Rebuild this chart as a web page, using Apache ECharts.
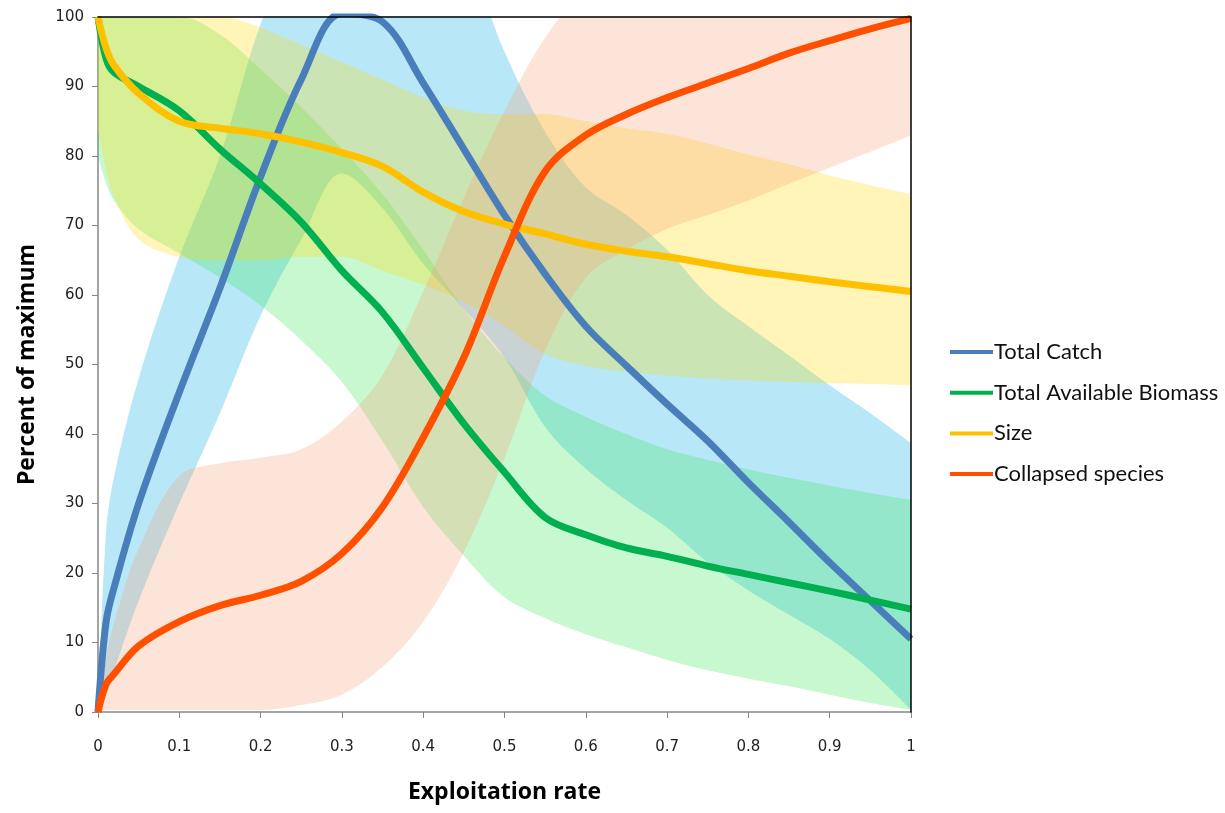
<!DOCTYPE html>
<html>
<head>
<meta charset="utf-8">
<script src="https://cdn.jsdelivr.net/npm/echarts@6/dist/echarts.min.js"></script>
<style>
	html, body { margin: 0; padding: 0; background: #fff; }
	#chart { width: 1225px; height: 813px; }
</style>
</head>
<body>
<div id="chart"></div>
<script>
// exploitation rate samples shared by every curve
var xs = [0, 0.01, 0.02, 0.05, 0.1, 0.15, 0.2, 0.25, 0.3, 0.35, 0.4, 0.45, 0.5, 0.55, 0.6, 0.65, 0.7, 0.75, 0.8, 0.85, 0.9, 0.95, 1];

var seriesNames = ['Total Catch', 'Total Available Biomass', 'Size', 'Collapsed species'];

// central lines
var totalCatch = [0, 13, 18, 30, 46, 61, 77, 91, 100.5, 99.3, 90.5, 81, 71.5, 63, 55.5, 49.8, 44.3, 39, 33, 27.3, 21.5, 16, 10.5];
var biomass    = [100, 94, 92, 90, 86.5, 81, 76, 70.5, 63.5, 57.5, 49.5, 41.5, 34.5, 28, 25.5, 23.6, 22.4, 21, 19.8, 18.6, 17.4, 16.1, 14.8];
var size       = [100, 95.5, 93, 89, 85, 84, 83.2, 82, 80.5, 78.5, 74.8, 72, 70.2, 68.8, 67.3, 66.3, 65.5, 64.5, 63.5, 62.7, 61.9, 61.2, 60.5];
var collapsed  = [0, 4, 5.5, 9.5, 13, 15.3, 16.8, 18.8, 22.8, 29.5, 39.5, 51, 65.6, 77.8, 83, 86, 88.4, 90.5, 92.6, 94.8, 96.6, 98.3, 99.8];

// uncertainty ranges (lower / upper edge)
var catchLow  = [0, 2.5, 6, 16, 30, 43, 57, 68, 77.5, 72.5, 64.5, 58, 51, 41, 35, 30.5, 26.5, 21.5, 17.5, 14, 10.5, 6, 0.3];
var catchHigh = [0, 26, 34, 48, 65.5, 80, 99, 112, 118, 120, 118, 110, 95, 83.5, 75.5, 71.5, 66.5, 60, 55.5, 51.3, 47, 43, 38.7];
var bioLow    = [80, 76, 73.5, 69.5, 66, 62.5, 58.5, 53.5, 47.5, 39, 29.5, 22.5, 16.5, 13.5, 11.2, 9.3, 7.5, 6, 4.8, 3.7, 2.5, 1.3, 0.3];
var bioHigh   = [100, 100, 100, 100, 100, 97.5, 92.5, 87, 81, 74.5, 66.5, 58, 51, 45.5, 42.5, 40, 37.8, 36.3, 34.9, 33.7, 32.6, 31.5, 30.5];
var sizeLow   = [84, 78, 74, 68, 65.5, 65, 65, 65.5, 65.5, 63.5, 61.5, 59, 55.5, 51.5, 49.8, 49, 48.4, 48, 47.7, 47.5, 47.3, 47.2, 47];
var sizeHigh  = [100, 100, 100, 100, 100, 100, 98.5, 96, 93.5, 91, 88.4, 86.5, 86, 86, 85, 84, 83.2, 81.8, 80.2, 78.8, 77.2, 75.8, 74.5];
var collLow   = [0, 0.3, 0.3, 0.3, 0.3, 0.3, 0.3, 1, 2.5, 6.5, 13, 23, 36.5, 52, 62.5, 66.5, 69.5, 71.5, 73.6, 76, 78.3, 80.6, 83];
var collHigh  = [0, 8, 13, 23.5, 34, 35.8, 36.6, 37.8, 41.8, 48.5, 60.5, 74, 86.5, 97, 104, 108, 110, 112, 112, 112, 112, 112, 112];

var lineColors = ['#4a7ebb', '#00b050', '#ffc000', '#ff5000'];
var bandColors = ['rgb(0,173,230)', 'rgb(58,230,87)', 'rgb(255,219,0)', 'rgb(248,159,116)'];

// value first, x second, so the stack adds up the y values (encode below)
function pairs(vals) {
	return xs.map(function(x, i) { return [vals[i], x]; });
}

function band(key, low, high, color) {
	var diff = high.map(function(v, i) { return v - low[i]; });
	var base = {
		type: 'line', stack: key, smooth: 0.35, symbol: 'none', silent: true,
		encode: { x: 1, y: 0 },
		lineStyle: { opacity: 0 }, z: 1
	};
	return [
		Object.assign({}, base, { name: key + ' low', data: pairs(low) }),
		Object.assign({}, base, {
			name: key + ' high', data: pairs(diff),
			areaStyle: { color: color, opacity: 0.28 }
		})
	];
}

var series = [];
series = series.concat(band('catch', catchLow, catchHigh, bandColors[0]));
series = series.concat(band('bio', bioLow, bioHigh, bandColors[1]));
series = series.concat(band('size', sizeLow, sizeHigh, bandColors[2]));
series = series.concat(band('coll', collLow, collHigh, bandColors[3]));

[totalCatch, biomass, size, collapsed].forEach(function(vals, i) {
	series.push({
		name: seriesNames[i], type: 'line', smooth: 0.35, symbol: 'none', z: 5,
		data: pairs(vals),
		encode: { x: 1, y: 0 },
		lineStyle: { color: lineColors[i], width: 7 },
		itemStyle: { color: lineColors[i] }
	});
});

var labelFont = { fontFamily: 'DejaVu Sans', fontSize: 15, color: '#222' };
var titleFont = { fontFamily: 'Open Sans', fontSize: 23, fontWeight: 'bold', color: '#000' };

var option = {
	backgroundColor: '#fff',
	animation: false,
	grid: { left: 98, right: 314, top: 17, bottom: 101, outerBoundsMode: 'none', containLabel: false },
	legend: {
		data: seriesNames,
		orient: 'vertical',
		left: 945, top: 336,
		icon: 'rect', itemWidth: 43, itemHeight: 4, itemGap: 18.7,
		textStyle: { fontFamily: 'Lato', fontSize: 22, color: '#111', padding: [0, 0, 0, -4] }
	},
	xAxis: [{
		type: 'value', min: 0, max: 1, interval: 0.1,
		name: 'Exploitation rate', nameLocation: 'middle', nameGap: 69, nameTextStyle: titleFont,
		axisLine: { lineStyle: { color: '#868686', width: 1.5 } },
		axisTick: { length: 6, lineStyle: { color: '#868686' } },
		axisLabel: Object.assign({ margin: 28 }, labelFont),
		splitLine: { show: false }
	}, {
		type: 'value', min: 0, max: 1, position: 'top', z: 10,
		axisLine: { show: true, onZero: false, lineStyle: { color: '#000', width: 1.5 } },
		axisTick: { show: false }, axisLabel: { show: false }, splitLine: { show: false }
	}],
	yAxis: [{
		type: 'value', min: 0, max: 100, interval: 10,
		name: 'Percent of maximum', nameLocation: 'middle', nameGap: 59, nameRotate: 90, nameTextStyle: titleFont,
		axisLine: { show: true, lineStyle: { color: '#868686', width: 1.5 } },
		axisTick: { show: true, length: 6, lineStyle: { color: '#868686' } },
		axisLabel: Object.assign({ margin: 14 }, labelFont),
		splitLine: { show: false }
	}, {
		type: 'value', min: 0, max: 100, position: 'right', z: 10,
		axisLine: { show: true, onZero: false, lineStyle: { color: '#000', width: 1.5 } },
		axisTick: { show: false }, axisLabel: { show: false }, splitLine: { show: false }
	}],
	series: series
};

var chart = echarts.init(document.getElementById('chart'));
chart.setOption(option);
</script>
</body>
</html>
